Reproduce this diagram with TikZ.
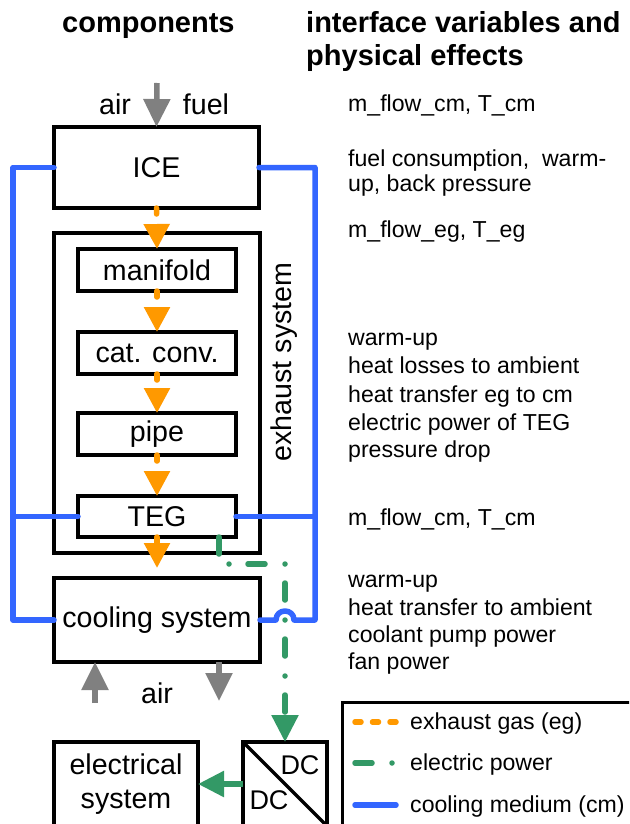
\documentclass[tikz,border=0pt]{standalone}
\usepackage{fontspec}
\setmainfont{Liberation Sans}
\usetikzlibrary{arrows.meta,calc}
\definecolor{egc}{HTML}{FF9900}
\definecolor{epc}{HTML}{339966}
\definecolor{cmc}{HTML}{3366FF}
\definecolor{grc}{HTML}{808080}
\begin{document}
\begin{tikzpicture}[x=1pt,y=-1pt,
  box/.style={draw=black, line width=3.5pt, fill=white, inner sep=0pt, outer sep=0pt,
    font=\fontsize{28.6}{34}\selectfont, align=center},
  egline/.style={draw=egc, line width=5.5pt, line cap=round, dash pattern=on 6pt off 20pt,
    -{Triangle[width=25pt,length=25pt]}},
  cmline/.style={draw=cmc, line width=5.5pt, line cap=round, line join=round},
  epline/.style={draw=epc, line width=5.5pt, line cap=round, dash pattern=on 17pt off 20pt on 0pt off 19pt},
  grline/.style={draw=grc, line width=5.5pt, -{Triangle[width=26pt,length=28pt]}},
  rtext/.style={anchor=base west, inner sep=0pt, font=\fontsize{23.1}{27}\selectfont},
  head/.style={anchor=base west, inner sep=0pt, font=\fontsize{29}{33}\selectfont\bfseries},
  lbl/.style={inner sep=0pt, font=\fontsize{28.6}{34}\selectfont}
]
\useasboundingbox (0,0) rectangle (629,824);
\clip (0,0) rectangle (629,824);
\fill[white] (0,0) rectangle (629,824);

% headers
\node[head] (h1) at (62,33) {components};
\node[head] (h2) at (306,33) {interface variables and};
\node[head] (h3) at (306,66) {physical effects};

% boxes
\node[box, minimum width=205pt, minimum height=81pt] (ICE) at (156.5,167.5) {ICE};
\node[box, minimum width=206pt, minimum height=320pt] (exh) at (157,393) {};
\node[lbl, rotate=90, anchor=base] (exhl) at (291,362) {exhaust system};
\node[box, minimum width=158pt, minimum height=42pt] (mani) at (157,270) {manifold};
\node[box, minimum width=158pt, minimum height=42pt] (cat) at (157,353) {cat. conv.};
\node[box, minimum width=158pt, minimum height=42pt] (pipe) at (157,434) {pipe};
\node[box, minimum width=158pt, minimum height=41pt] (TEG) at (157,516.5) {TEG};
\node[box, minimum width=206pt, minimum height=84pt] (cool) at (157,620) {cooling system};
\node[box, minimum width=144pt, minimum height=84pt] (elec) at (126,784) {electrical\\system};
\node[box, minimum width=84pt, minimum height=84pt] (DC) at (285,784) {};
\draw[line width=3.5pt] (DC.north west) -- (DC.south east);
\node[lbl, font=\fontsize{27}{32}\selectfont] (dc1) at (300,765) {DC};
\node[lbl, font=\fontsize{27}{32}\selectfont] (dc2) at (269,800) {DC};

% air / fuel
\node[lbl, anchor=base] (air1) at (115,115) {air};
\node[lbl, anchor=base] (fuel) at (206,115) {fuel};
\coordinate (gin) at (157,83);
\draw[grline] (gin) -- (ICE.north);
\node[lbl, anchor=base] (air2) at (157,703) {air};
\coordinate (ain) at (95,703);
\coordinate (aout) at (219,701);
\draw[grline] (ain) -- (ain |- cool.south);
\draw[grline] (aout |- cool.south) -- (aout);

% exhaust gas flow
\draw[egline] (ICE.south) -- (mani.north);
\draw[egline] (mani.south) -- (cat.north);
\draw[egline] (cat.south) -- (pipe.north);
\draw[egline] (pipe.south) -- (TEG.north);
\coordinate (egout) at (157,568);
\draw[egline] (TEG.south) -- (egout);

% electric power
\coordinate (gs) at ($(TEG.south east)+(-17,0)$);
\coordinate (gc) at (285,564);
\draw[epline, -{Triangle[width=26pt,length=27pt]}] (gs) |- (gc) -- (DC.north);
\draw[draw=epc, line width=5.5pt, -{Triangle[width=25pt,length=26pt]}] (DC.west) -- (elec.east);

% cooling medium
\coordinate (L) at (13,0);
\coordinate (R) at (315,0);
\draw[cmline] (ICE.west) -- (ICE.west -| L) -- (cool.west -| L) -- (cool.west);
\draw[cmline] (TEG.west -| L) -- (TEG.west);
\coordinate (hc) at (cool.east -| DC.north);
\coordinate (hl) at ($(hc)+(-9,0)$);
\coordinate (hr) at ($(hc)+(9,0)$);
\draw[cmline] (ICE.east) -- (ICE.east -| R) -- (cool.east -| R) -- (hr)
  .. controls ($(hr)+(0,-12)$) and ($(hl)+(0,-12)$) .. (hl) -- (cool.east);
\draw[cmline] (TEG.east) -- (TEG.east -| R);

% right-hand texts
\node[rtext] (r1) at (348,112) {m\_flow\_cm, T\_cm};
\node[rtext] (r2) at (348,166) {fuel consumption,\ \ warm-};
\node[rtext] (r3) at (348,191) {up, back pressure};
\node[rtext] (r4) at (348,237) {m\_flow\_eg, T\_eg};
\node[rtext] (r5) at (348,345) {warm-up};
\node[rtext] (r6) at (348,373) {heat losses to ambient};
\node[rtext] (r7) at (348,402) {heat transfer eg to cm};
\node[rtext] (r8) at (348,430) {electric power of TEG};
\node[rtext] (r9) at (348,457) {pressure drop};
\node[rtext] (r10) at (348,525) {m\_flow\_cm, T\_cm};
\node[rtext] (r11) at (348,587) {warm-up};
\node[rtext] (r12) at (348,615) {heat transfer to ambient};
\node[rtext] (r13) at (348,642) {coolant pump power};
\node[rtext] (r14) at (348,669) {fan power};

% legend
\draw[line width=3pt] (342,702) rectangle (660,870);
\coordinate (l1a) at (355,722); \coordinate (l1b) at (396,722);
\coordinate (l2a) at (355,763); \coordinate (l2b) at (392,763);
\coordinate (l3a) at (355,805); \coordinate (l3b) at (396,805);
\draw[draw=egc, line width=5.5pt, line cap=round, dash pattern=on 6pt off 11.5pt] (l1a) -- (l1b);
\draw[draw=epc, line width=5.5pt, line cap=round, dash pattern=on 17pt off 20pt on 0pt off 20pt] (l2a) -- (l2b);
\draw[cmline] (l3a) -- (l3b);
\node[rtext] (t1) at (410,729) {exhaust gas (eg)};
\node[rtext] (t2) at (410,770) {electric power};
\node[rtext] (t3) at (410,812) {cooling medium (cm)};
\end{tikzpicture}
\end{document}
